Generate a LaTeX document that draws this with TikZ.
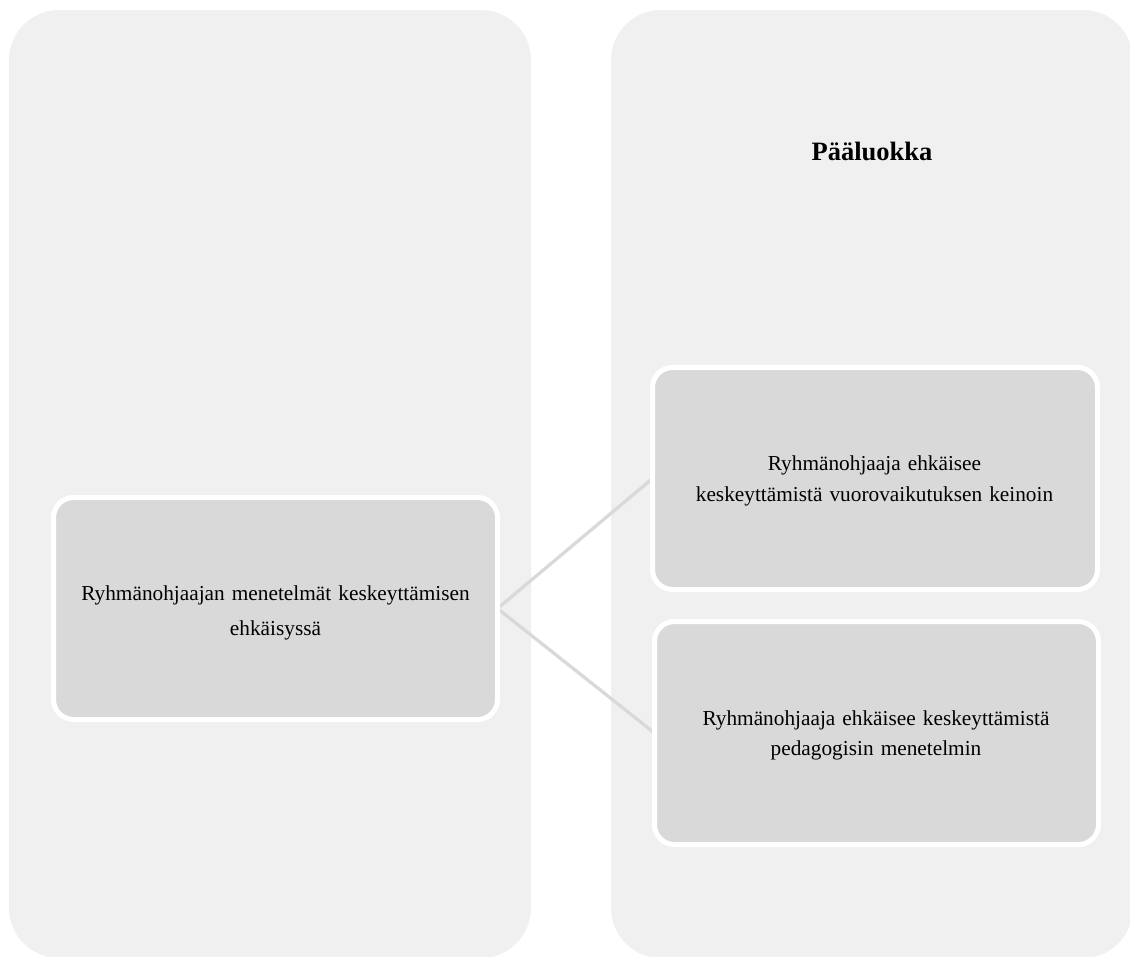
\documentclass[tikz,border=0pt]{standalone}
\usepackage{fontspec}
\setmainfont{Liberation Serif}
\pgfdeclarelayer{panel}
\pgfdeclarelayer{edge}
\pgfsetlayers{panel,edge,main}
\definecolor{panelgray}{HTML}{F0F0F0}
\definecolor{boxgray}{HTML}{D9D9D9}
\begin{document}
\begin{tikzpicture}[x=1pt,y=-1pt,
  panel/.style={fill=panelgray, draw=none, rounded corners=50pt},
  catbox/.style={draw=white, line width=5pt, fill=boxgray, rounded corners=20pt,
    minimum width=445pt, minimum height=222pt, inner sep=0pt, outer sep=0pt},
  boxtext/.style={inner sep=0pt, anchor=base, text width=440pt, align=center,
    font=\fontsize{21.3}{#1}\selectfont},
  link/.style={draw=boxgray, line width=3.3pt},
  heading/.style={font=\fontsize{26.5}{32}\selectfont\bfseries, inner sep=0pt, anchor=base}
]
\useasboundingbox (0,0) rectangle (1130,956);

% two background columns
\begin{pgfonlayer}{panel}
  \fill[panel] (9,10) rectangle (531,958);
  \fill[panel] (611,10) rectangle (1133,958);
\end{pgfonlayer}

% column heading
\node[heading] (head) at (872,160) {Pääluokka};

% category boxes
\node[catbox, minimum width=444pt] (src) at (275.5,608.5) {};
\node[catbox] (up) at (875,478.5) {};
\node[catbox, minimum width=444pt, minimum height=223pt] (low) at (876.5,733) {};

% box labels
\node[boxtext=35pt] (srctext) at (275.5,600.7)
  {Ryhmänohjaajan menetelmät keskeyttämisen\\ehkäisyssä};
\node[boxtext=31.7pt] (uptext) at (874.5,470)
  {Ryhmänohjaaja ehkäisee\\keskeyttämistä vuorovaikutuksen keinoin};
\node[boxtext=30pt] (lowtext) at (876,725)
  {Ryhmänohjaaja ehkäisee keskeyttämistä\\pedagogisin menetelmin};

% connectors behind the boxes
\begin{pgfonlayer}{edge}
  \draw[link] (src.east) -- (up.west);
  \draw[link] (src.east) -- (low.west);
\end{pgfonlayer}
\end{tikzpicture}
\end{document}
